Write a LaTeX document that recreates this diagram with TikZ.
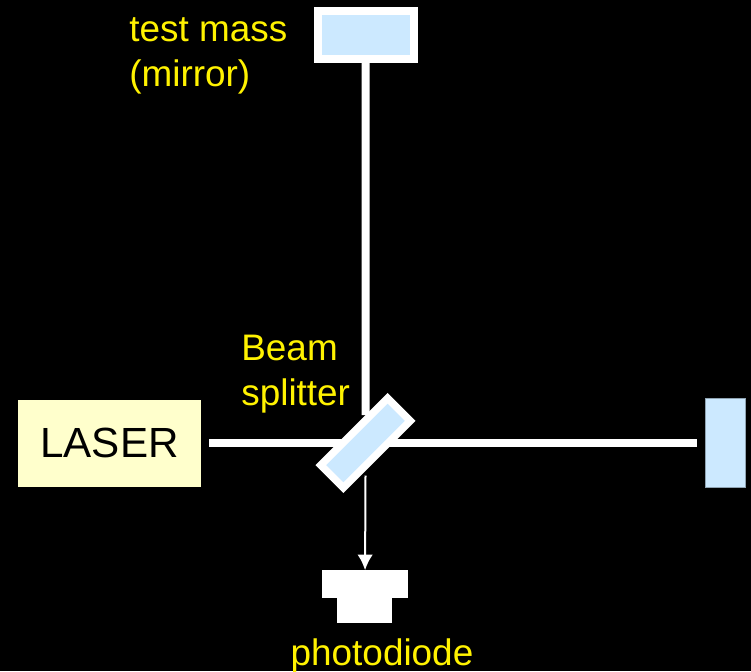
\documentclass[tikz,border=0pt]{standalone}
\usepackage{fontspec}
\setmainfont{Liberation Sans}
\usetikzlibrary{arrows.meta, backgrounds}
\definecolor{mirrorblue}{HTML}{CCE9FF}
\definecolor{laseryellow}{HTML}{FFFFCC}
\tikzset{
  mirror/.style={rectangle, inner sep=0pt, fill=mirrorblue, draw=white, line width=0.16cm},
  endmirror/.style={rectangle, inner sep=0pt, fill=mirrorblue, draw=mirrorblue!70!black, line width=0.02cm},
  laserbox/.style={rectangle, inner sep=0pt, fill=laseryellow, text=black, font=\fontsize{24}{29}\selectfont},
  diode/.style={rectangle, inner sep=0pt, outer sep=0pt, fill=white},
  caption/.style={inner sep=0pt, text=yellow, align=left, font=\fontsize{21}{25.6}\selectfont},
  beam/.style={draw=white, line width=0.16cm}
}

\begin{document}
\begin{tikzpicture}
\useasboundingbox (0,0) rectangle (15.02,13.42);
\node (Laser) [laserbox, minimum width=3.66cm, minimum height=1.74cm] at (2.19,4.56) {\raisebox{-0.04cm}{LASER}};
\node (Splitter) [mirror, rotate=45, line width=0.15cm, minimum width=1.89cm, minimum height=0.64cm] at (7.31,4.56) {};
\node (TopMirror) [mirror, minimum width=1.92cm, minimum height=0.95cm] at (7.31,12.72) {};
\node (EndMirror) [endmirror, minimum width=0.8cm, minimum height=1.77cm] at (14.51,4.56) {};
\node (DiodeBase) [diode, minimum width=1.09cm, minimum height=0.6cm] at (7.29,1.26) {};
\node (DiodeTop) [diode, minimum width=1.73cm, minimum height=0.555cm] at (7.30,1.74) {};
\coordinate (ArrowStart) at (7.31,3.91);
%Labels:
\node (MassLabel) [caption, anchor=west] at (2.58,12.30) {test mass\\(mirror)};
\node (SplitterLabel) [caption, anchor=west] at (4.82,5.93) {Beam\\splitter};
\node (DiodeLabel) [caption] at (7.64,0.31) {photodiode};
%Beams:
\begin{scope}[on background layer]
\fill [black] (0,0) rectangle (15.02,13.42);
\path [beam]
(TopMirror) edge (Splitter)
(Laser) edge [shorten <=0.16cm, shorten >=0.16cm] (EndMirror)
;
\end{scope}
%Output to the diode:
\draw [-{Latex[length=0.31cm,width=0.31cm]}, draw=white, fill=white, line width=0.04cm] (ArrowStart) -- (DiodeTop);
\end{tikzpicture}
\end{document}
